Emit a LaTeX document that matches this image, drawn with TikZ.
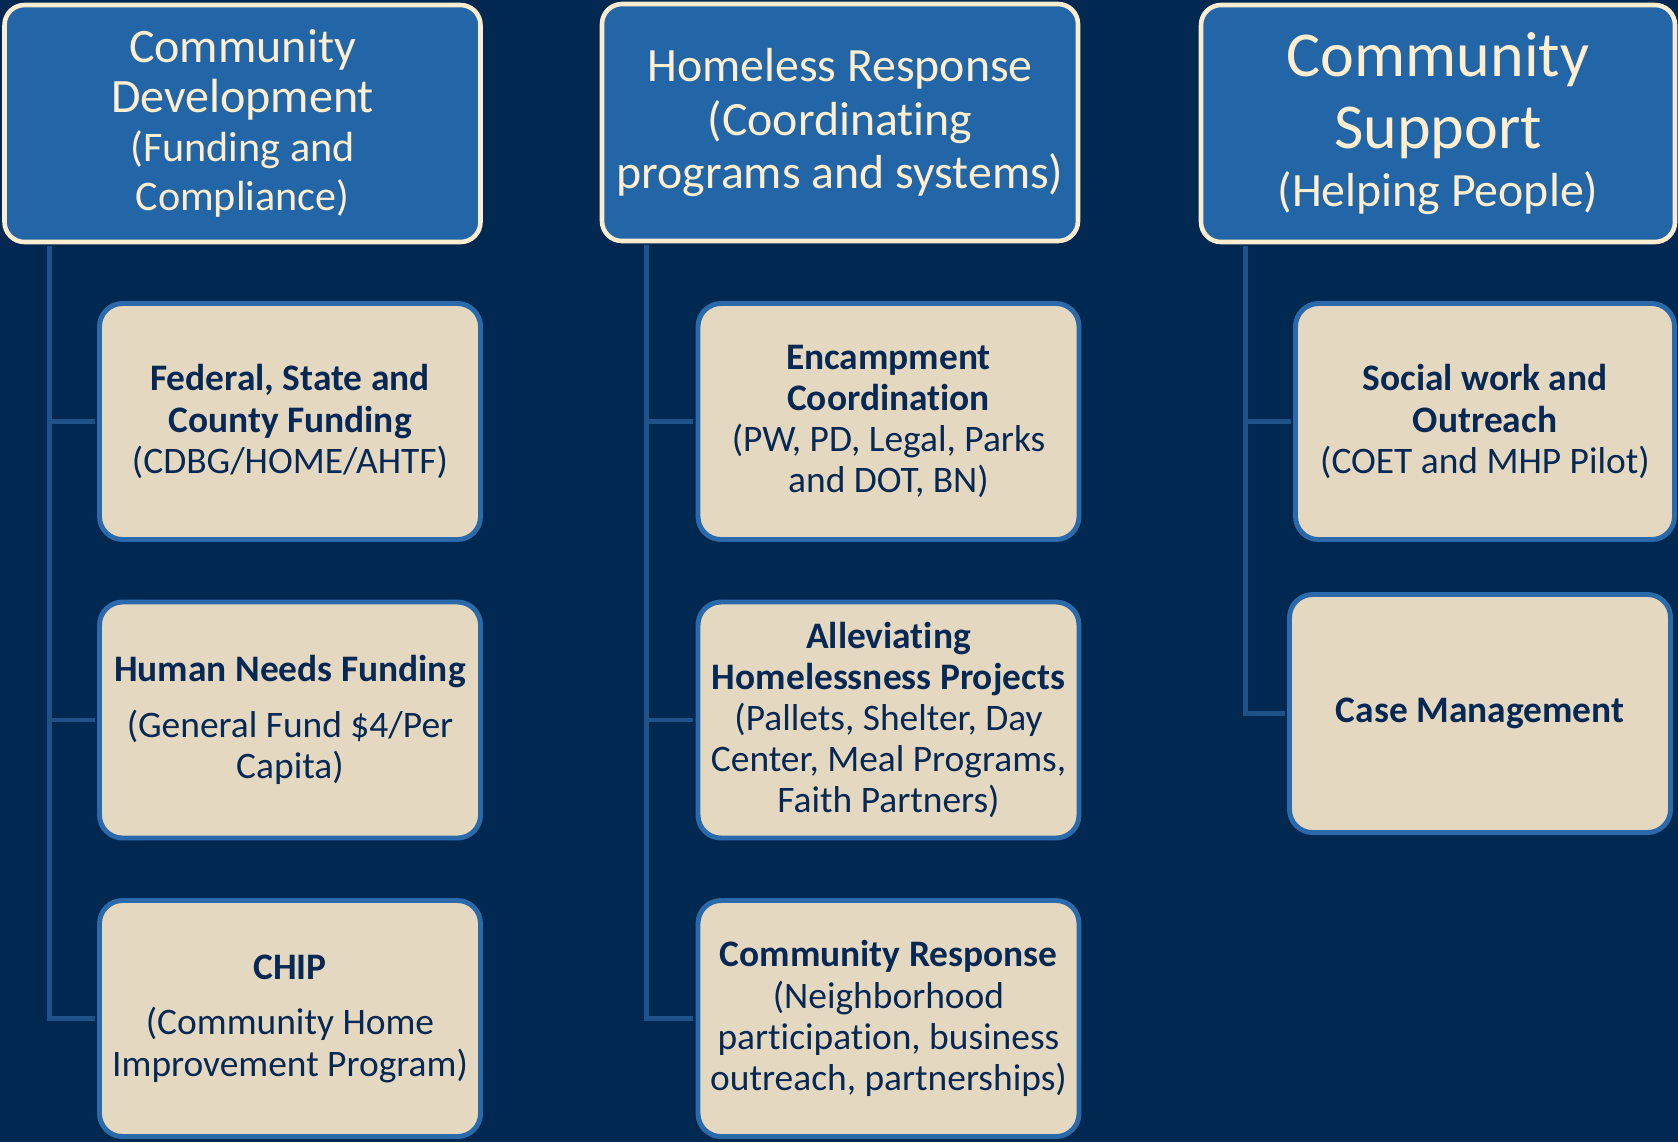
\documentclass[tikz,border=0pt]{standalone}
\usepackage{fontspec}
\setmainfont{Carlito}[Ligatures=NoCommon]
\definecolor{navybg}{RGB}{0,40,80}
\definecolor{headblue}{RGB}{35,102,167}
\definecolor{headline}{RGB}{252,236,208}
\definecolor{headtext}{RGB}{255,239,208}
\definecolor{tanfill}{RGB}{229,216,193}
\definecolor{tanline}{RGB}{43,106,170}
\definecolor{tantext}{RGB}{6,40,84}
\definecolor{branchblue}{RGB}{31,82,136}
\tikzset{
  headbox/.style={draw=headline, fill=headblue, line width=1.3pt, rounded corners=0.2cm,
    text=headtext, align=center, minimum width=4.76cm, minimum height=2.37cm, inner sep=0pt},
  itembox/.style={draw=tanline, fill=tanfill, line width=1.4pt, rounded corners=0.23cm,
    text=tantext, align=center, minimum width=3.81cm, minimum height=2.36cm, inner sep=0pt,
    font=\fontsize{10.65}{11.7}\selectfont},
  branch/.style={draw=branchblue, line width=1.3pt}
}
\begin{document}
\begin{tikzpicture}[line join=miter]
	\def\gap{0.47}
	
	% Background
	\fill[navybg] (0,0) rectangle (16.78,-11.42);
	\useasboundingbox (0,0) rectangle (16.78,-11.42);
	
	% Column heads
	\node[headbox, font=\fontsize{13.65}{14}\selectfont] (cd) at (2.425,-1.235)
		{Community\\Development\\{\fontsize{12}{14}\selectfont (Funding and}\\{\fontsize{12}{14}\selectfont Compliance)}};
	\node[headbox, font=\fontsize{13.6}{15.1}\selectfont] (hr) at (8.40,-1.225)
		{Homeless Response\\(Coordinating\\programs and systems)};
	\node[headbox, minimum width=4.74cm, font=\fontsize{18.2}{16.3}\selectfont] (cs) at (14.38,-1.235)
		{Community\\[4.2pt]Support\\{\fontsize{13.6}{14}\selectfont (Helping People)}};
	
	% Community Development
	\node[itembox] (fed) at (2.90,-4.215) {\textbf{Federal, State and}\\\textbf{County Funding}\\(CDBG/HOME/AHTF)};
	\node[itembox] (hnf) at (2.90,-7.20) {\textbf{Human Needs Funding}\\[4.2pt](General Fund \$4/Per\\Capita)};
	\node[itembox] (chip) at (2.90,-10.185) {\textbf{CHIP}\\[4.2pt](Community Home\\Improvement Program)};
	
	% Homeless Response
	\node[itembox] (enc) at (8.885,-4.215) {\textbf{Encampment}\\\textbf{Coordination}\\(PW, PD, Legal, Parks\\and DOT, BN)};
	\node[itembox] (ahp) at (8.885,-7.20) {\textbf{Alleviating}\\\textbf{Homelessness Projects}\\(Pallets, Shelter, Day\\Center, Meal Programs,\\Faith Partners)};
	\node[itembox] (cr) at (8.885,-10.185) {\textbf{Community Response}\\(Neighborhood\\participation, business\\outreach, partnerships)};
	
	% Community Support
	\node[itembox, minimum width=3.79cm] (swo) at (14.85,-4.215) {\textbf{Social work and}\\\textbf{Outreach}\\(COET and MHP Pilot)};
	\node[itembox, minimum height=2.38cm] (cm) at (14.80,-7.135) {\textbf{Case Management}};
	
	% Branch lines
	\draw[branch] ([xshift=\gap cm, yshift=-0.02cm]cd.south west) |- ([xshift=-0.025cm]fed.west);
	\draw[branch] ([xshift=\gap cm, yshift=-0.02cm]cd.south west) |- ([xshift=-0.025cm]hnf.west);
	\draw[branch] ([xshift=\gap cm, yshift=-0.02cm]cd.south west) |- ([xshift=-0.025cm]chip.west);
	\draw[branch] ([xshift=\gap cm, yshift=-0.02cm]hr.south west) |- ([xshift=-0.025cm]enc.west);
	\draw[branch] ([xshift=\gap cm, yshift=-0.02cm]hr.south west) |- ([xshift=-0.025cm]ahp.west);
	\draw[branch] ([xshift=\gap cm, yshift=-0.02cm]hr.south west) |- ([xshift=-0.025cm]cr.west);
	\draw[branch] ([xshift=\gap cm, yshift=-0.02cm]cs.south west) |- ([xshift=-0.025cm]swo.west);
	\draw[branch] ([xshift=\gap cm, yshift=-0.02cm]cs.south west) |- ([xshift=-0.025cm]cm.west);
\end{tikzpicture}
\end{document}
